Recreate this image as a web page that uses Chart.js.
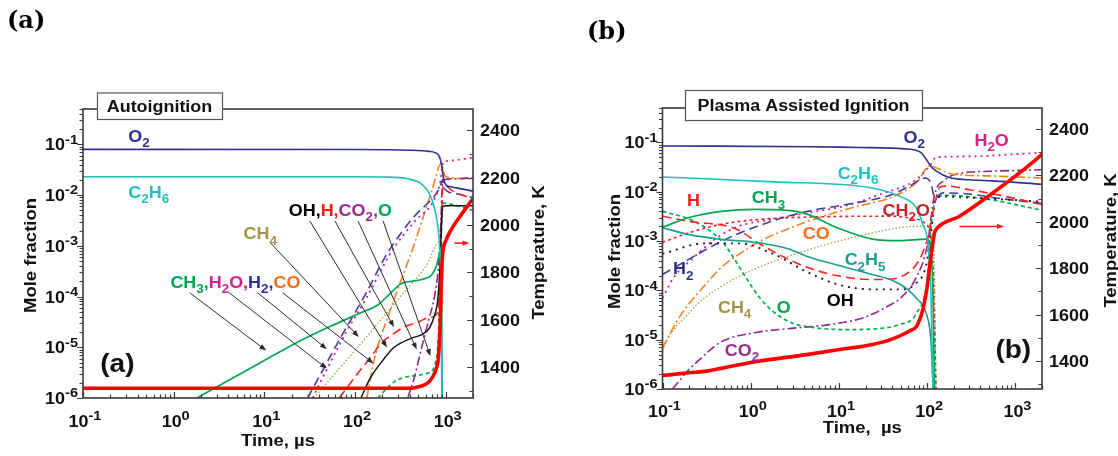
<!DOCTYPE html>
<html>
<head>
<meta charset="utf-8">
<title>Ethane–air ignition: autoignition vs plasma assisted ignition</title>
<script src="https://cdn.jsdelivr.net/npm/chart.js@4.4.1/dist/chart.umd.min.js"></script>
<style>
  html, body { margin: 0; padding: 0; background: #fff; }
  #page { position: relative; width: 1118px; height: 456px; overflow: hidden; background: #fff; }
  #page canvas { position: absolute; top: 0; }
  .panel-tag { position: absolute; font: bold 24px "DejaVu Serif", "Liberation Serif", serif; color: #000; line-height: 1; }
</style>
</head>
<body>
<div id="page">
  <canvas id="chartA" width="559" height="456" style="left:0"></canvas>
  <canvas id="chartB" width="559" height="456" style="left:559px"></canvas>
  <div class="panel-tag" style="left:7px;top:8px">(a)</div>
  <div class="panel-tag" style="left:587px;top:19px">(b)</div>
</div>
<script>
// ---------- axis ticks ----------
const timeTicks = [0.1, 1, 10, 100, 1000];
const timeTickLabels = ['10^{-1}', '10^{0}', '10^{1}', '10^{2}', '10^{3}'];
const fracTicks = [1e-6, 1e-5, 1e-4, 1e-3, 1e-2, 1e-1];
const fracTickLabels = ['10^{-6}', '10^{-5}', '10^{-4}', '10^{-3}', '10^{-2}', '10^{-1}'];
const tempTicks = [1400, 1600, 1800, 2000, 2200, 2400];
const tempTickLabels = ['1400', '1600', '1800', '2000', '2200', '2400'];

// ---------- (a) autoignition: [time µs, mole fraction] / [time µs, K] ----------
const aT = [[0.1,1311],[420,1311],[500,1317],[583,1325],[660,1340],[721,1360],[780,1390],[830,1440],[865,1560],[890,1720],[910,1830],[930,1885],[1014,1938],[1151,1981],[1486,2044],[2000,2112]];
const aO2 = [[0.1,0.08],[100,0.0795],[400,0.077],[650,0.073],[760,0.069],[850,0.058],[900,0.04],[950,0.021],[1000,0.016],[1100,0.0148],[1500,0.0133],[2000,0.012]];
const aC2H6 = [[0.1,0.0231],[100,0.0231],[210,0.0228],[380,0.021],[540,0.0165],[700,0.0085],[800,0.0032],[860,9e-4],[890,1.5e-4],[905,1e-5],[912,1e-6]];
const aCH3 = [[1.8,1e-6],[10,5.5e-6],[25,1.35e-5],[59,2.8e-5],[116,4.8e-5],[178,6.8e-5],[250,1.2e-4],[322,1.8e-4],[420,2.0e-4],[560,2.2e-4],[690,2.6e-4],[790,4e-4],[850,7e-4],[880,9e-4],[898,1e-4],[906,1e-6]];
const aH2O = [[34,1e-6],[50,4e-6],[80,2e-5],[132,9e-5],[250,7.5e-4],[450,3e-3],[750,8.3e-3],[880,0.02],[935,0.045],[1000,0.047],[1500,0.051],[2000,0.055]];
const aH2 = [[30,1e-6],[70,1.6e-5],[130,1.1e-4],[220,6.5e-4],[300,1.5e-3],[450,3.8e-3],[636,7e-3],[750,9.5e-3],[870,0.015],[925,0.02],[960,0.014],[1200,0.011],[2000,0.009]];
const aCO = [[135,1e-6],[163,5.7e-6],[250,6e-5],[452,1.1e-3],[700,0.012],[895,0.042],[950,0.028],[1000,0.023],[2000,0.021]];
const aCH4 = [[35,1e-6],[100,8.7e-6],[300,9e-5],[600,3.9e-4],[880,1.25e-3],[905,1e-4],[915,1e-6]];
const aOH = [[116,1e-6],[150,2.6e-6],[210,6e-6],[270,1e-5],[415,1.5e-5],[550,1.8e-5],[660,2.4e-5],[760,4.5e-5],[820,9e-5],[865,4e-4],[900,3e-3],[925,6e-3],[1000,6.2e-3],[2000,6.2e-3]];
const aH = [[67,1e-6],[100,2.6e-6],[150,6.5e-6],[194,1.2e-5],[272,1.9e-5],[360,2.6e-5],[492,3.1e-5],[636,3.8e-5],[820,5e-5],[870,3e-4],[905,5e-3],[940,0.016],[1200,0.012],[2000,0.0085]];
const aCO2 = [[382,1e-6],[450,2.5e-6],[536,9e-6],[650,3.5e-5],[752,1.0e-4],[832,4e-4],[885,3e-3],[915,0.015],[960,0.02],[1200,0.021],[2000,0.022]];
const aO = [[178,1e-6],[272,2.1e-6],[415,2.7e-6],[636,3.1e-6],[785,5.7e-6],[832,1.9e-5],[863,1.9e-4],[895,2e-3],[940,7e-3],[1200,6.5e-3],[2000,5e-3]];

// ---------- (b) plasma assisted ignition ----------
const bT = [[0.1,1338],[0.2,1350],[0.32,1357],[0.49,1371],[1.17,1398],[4.27,1428],[10.2,1450],[24,1472],[40,1495],[63,1530],[76,1551],[89,1620],[100,1720],[106,1800],[115,1900],[121,1952],[131,1974],[232,2024],[552,2124],[1240,2225],[2000,2290]];
const bO2 = [[0.1,0.085],[5,0.082],[17,0.079],[63,0.073],[85,0.062],[97,0.046],[110,0.033],[126,0.0265],[178,0.0194],[300,0.0175],[552,0.0166],[2000,0.0142]];
const bC2H6 = [[0.1,0.02],[1.8,0.0159],[22,0.0122],[53,0.0076],[75,0.0048],[89,0.0022],[102,8.6e-4],[110,1e-4],[116,1e-6]];
const bCH3 = [[0.1,1.9e-3],[0.2,3e-3],[0.47,4e-3],[1.1,4.4e-3],[2.6,4.2e-3],[4.2,3.6e-3],[10,1.8e-3],[24,1.1e-3],[50,1.02e-3],[97,1.1e-3],[108,8e-4],[116,1e-4],[121,1e-6]];
const bC2H5 = [[0.1,1.87e-3],[0.2,1.35e-3],[0.47,1.08e-3],[1.1,9.5e-4],[2.65,7e-4],[4.2,5e-4],[10,3.2e-4],[24,2.1e-4],[40,1.6e-4],[60,1.05e-4],[75,7e-5],[97,3.5e-5],[110,1e-5],[117,1e-6]];
const bH = [[0.1,3.2e-3],[0.2,2.5e-3],[0.66,1.8e-3],[1.3,8.5e-4],[2.65,4.3e-4],[4.2,3e-4],[10,1.95e-4],[24,1.66e-4],[40,1.7e-4],[63,2.4e-4],[82,4.3e-4],[102,1.2e-3],[120,5e-3],[140,0.0125],[170,0.013],[300,0.011],[600,8.8e-3],[2000,5.5e-3]];
const bCH2O = [[0.1,9.4e-4],[0.2,1.48e-3],[0.47,2.2e-3],[1.1,2.7e-3],[4.1,3.05e-3],[37,3.2e-3],[75,2.8e-3],[97,2.2e-3],[115,5e-4],[126,1e-6]];
const bOH = [[0.1,5.5e-4],[0.3,9e-4],[0.75,9e-4],[1.8,5.5e-4],[4.5,2.3e-4],[10,1.3e-4],[24,1.05e-4],[50,1.05e-4],[75,1.4e-4],[97,3.2e-4],[110,1.5e-3],[125,7e-3],[150,8e-3],[300,7.6e-3],[1000,6.8e-3],[2000,6.3e-3]];
const bH2 = [[0.1,2.1e-4],[0.2,4.3e-4],[0.47,1e-3],[1.1,1.9e-3],[2.65,3.2e-3],[5,4.2e-3],[10,5.2e-3],[24,6.9e-3],[40,8.8e-3],[63,0.013],[95,0.019],[110,0.015],[122,7.5e-3],[150,9.5e-3],[300,9e-3],[600,7.5e-3],[2000,5.8e-3]];
const bH2O = [[0.1,7e-5],[0.136,1.9e-4],[0.216,4.3e-4],[0.38,1.05e-3],[0.73,2e-3],[1.84,2.8e-3],[4.7,3.8e-3],[11.8,5.2e-3],[30,9e-3],[76,0.018],[110,0.036],[125,0.05],[300,0.052],[1000,0.058],[2000,0.062]];
const bCO = [[0.1,6.8e-6],[0.158,3e-5],[0.316,1.4e-4],[0.49,3.2e-4],[0.75,5.5e-4],[1.15,9e-4],[2.7,1.8e-3],[10,4e-3],[24,6e-3],[34,7e-3],[76,0.0155],[108,0.034],[130,0.03],[190,0.023],[500,0.021],[2000,0.019]];
const bCH4 = [[0.1,6e-6],[0.113,1e-5],[0.2,3.5e-5],[0.286,6.6e-5],[0.73,1.9e-4],[1.84,3.9e-4],[4.7,6.8e-4],[11.8,1.08e-3],[30,1.6e-3],[76,2e-3],[105,2e-3],[118,1e-3],[126,1e-6]];
const bO = [[0.1,4e-3],[0.2,2.8e-3],[0.29,2e-3],[0.47,1e-3],[0.6,5.5e-4],[0.87,1.9e-4],[1.27,7e-5],[1.84,3.6e-5],[2.9,2.2e-5],[4.7,1.8e-5],[12,1.6e-5],[30,1.7e-5],[47,2e-5],[76,3.5e-5],[100,1.7e-4],[110,1.7e-3],[125,7e-3],[160,8.5e-3],[500,7e-3],[1000,5.5e-3],[2000,4.2e-3]];
const bCO2 = [[0.13,1e-6],[0.2,2.5e-6],[0.24,3.4e-6],[0.46,9e-6],[1.15,1.4e-5],[2.9,1.7e-5],[7.4,2e-5],[19,2.8e-5],[37.5,5e-5],[50,7e-5],[76,1.9e-4],[100,8e-4],[120,8e-3],[160,0.0175],[250,0.024],[500,0.026],[2000,0.028]];

// ---------- line styles ----------
const STYLE = {
  T:    { color: '#FF0000', width: 3.6, dash: [] },
  O2:   { color: '#2E3192', width: 1.6, dash: [] },
  C2H6: { color: '#1FBFC2', width: 1.6, dash: [] },
  CH3:  { color: '#00A651', width: 1.7, dash: [] },
  C2H5: { color: '#14A08F', width: 1.6, dash: [] },
  H:    { color: '#FF2222', width: 1.6, dash: [9, 5] },
  CH2O: { color: '#D62A2A', width: 1.6, dash: [3, 3] },
  H2O:  { color: '#DD1C8E', width: 1.8, dash: [2, 4] },
  H2:   { color: '#3B3FA3', width: 1.6, dash: [9, 5] },
  CO:   { color: '#F7801E', width: 1.6, dash: [9, 3, 2, 3] },
  CO2:  { color: '#93278F', width: 1.6, dash: [9, 3, 2, 3] },
  CH4:  { color: '#A6983F', width: 1.3, dash: [1.5, 2] },
  O:    { color: '#00B050', width: 1.7, dash: [4, 3] },
  OH:   { color: '#111111', width: 1.5, dash: [] },
  OHd:  { color: '#222222', width: 1.9, dash: [2, 5] }
};
const LC = {
  O2: '#2E3192', C2H6: '#1FBFC2', CH4: '#A39446', CH3: '#00A651', H2O: '#D4208B',
  H2: '#2E3192', CO: '#F26F21', OH: '#000000', H: '#FF1A1A', CO2: '#9B2A8F',
  O: '#00A651', CH2O: '#C0282D', C2H5: '#16A190'
};

const seriesA = [
  { data: aT, style: 'T', axis: 'yT' },
  { data: aO2, style: 'O2' }, { data: aC2H6, style: 'C2H6' }, { data: aCH3, style: 'CH3' },
  { data: aOH, style: 'OH' }, { data: aH, style: 'H' }, { data: aCO2, style: 'CO2' },
  { data: aO, style: 'O' }, { data: aH2O, style: 'H2O' }, { data: aH2, style: 'H2' },
  { data: aCO, style: 'CO' }, { data: aCH4, style: 'CH4' }
];
const seriesB = [
  { data: bT, style: 'T', axis: 'yT' },
  { data: bO2, style: 'O2' }, { data: bC2H6, style: 'C2H6' }, { data: bCH3, style: 'CH3' },
  { data: bC2H5, style: 'C2H5' }, { data: bH, style: 'H' }, { data: bCH2O, style: 'CH2O' },
  { data: bOH, style: 'OHd' }, { data: bH2, style: 'H2' }, { data: bH2O, style: 'H2O' },
  { data: bCO, style: 'CO' }, { data: bCH4, style: 'CH4' }, { data: bO, style: 'O' },
  { data: bCO2, style: 'CO2' }
];

// species names placed in the plot, anchored at [time, mole fraction] (left edge, baseline)
const labelsA = [
  { at: [0.316, 0.111], parts: [['O_2', LC.O2]] },
  { at: [0.316, 8.8e-3], parts: [['C_2H_6', LC.C2H6]] },
  { at: [5.9, 1.34e-3], parts: [['CH_4', LC.CH4]] },
  { at: [18.6, 3.9e-3], parts: [['OH,', LC.OH], ['H,', LC.H], ['CO_2,', LC.CO2], ['O', LC.O]] },
  { at: [0.92, 1.51e-4], parts: [['CH_3,', LC.CH3], ['H_2O,', LC.H2O], ['H_2,', LC.H2], ['CO', LC.CO]] },
  { at: [0.155, 3.3e-6], parts: [['(a)', '#111']], size: 25 }
];
const labelsB = [
  { at: [54, 0.0968], parts: [['O_2', LC.O2]] },
  { at: [343, 0.086], parts: [['H_2O', LC.H2O]] },
  { at: [9.66, 0.0179], parts: [['C_2H_6', LC.C2H6]] },
  { at: [0.189, 5.2e-3], parts: [['H', LC.H]] },
  { at: [1.03, 5.8e-3], parts: [['CH_3', LC.CH3]] },
  { at: [31.2, 3.3e-3], parts: [['CH_2O', LC.CH2O]] },
  { at: [3.88, 1.08e-3], parts: [['CO', LC.CO]] },
  { at: [11.6, 3.2e-4], parts: [['C_2H_5', LC.C2H5]] },
  { at: [0.1315, 2.1e-4], parts: [['H_2', LC.H2]] },
  { at: [0.425, 3.56e-5], parts: [['CH_4', LC.CH4]] },
  { at: [1.97, 3.56e-5], parts: [['O', LC.O]] },
  { at: [7.26, 4.8e-5], parts: [['OH', LC.OH]] },
  { at: [0.509, 4.75e-6], parts: [['CO_2', LC.CO2]] },
  { at: [593, 4.3e-6], parts: [['(b)', '#111']], size: 25 }
];

// leader arrows from the grouped names to their curves (a)
const leadersA = [
  { from: [1.50, 1.19e-4], to: [10.5, 8.6e-6] },
  { from: [4.09, 1.19e-4], to: [48.9, 3.8e-6] },
  { from: [8.43, 1.19e-4], to: [48.9, 9.2e-6] },
  { from: [15.9, 1.19e-4], to: [160, 4.8e-6] },
  { from: [11.6, 1.16e-3], to: [110, 1.6e-5] },
  { from: [31.7, 3.1e-3], to: [225, 9.9e-6] },
  { from: [60, 3.1e-3], to: [269, 2.5e-5] },
  { from: [108, 3.1e-3], to: [479, 9e-6] },
  { from: [204, 3.1e-3], to: [679, 6.7e-6] }
];
// red arrows pointing to the temperature axis, [time, K]
const tempArrowA = { from: [1250, 1924], to: [1830, 1924] };
const tempArrowB = { from: [232, 1980], to: [741, 1980] };

// ---------- text helpers ----------
const SX = 1.12;
const FAMILY = '"Liberation Sans", Arial, Helvetica, sans-serif';
const font = (sz) => 'bold ' + sz + 'px ' + FAMILY;

function runs(str, color) {
  const out = []; let buf = '', i = 0;
  const flush = () => { if (buf) { out.push({ t: buf, c: color, s: 'n' }); buf = ''; } };
  while (i < str.length) {
    const ch = str[i];
    if (ch === '_' || ch === '^') {
      flush();
      let txt;
      if (str[i + 1] === '{') { const j = str.indexOf('}', i + 2); txt = str.slice(i + 2, j); i = j + 1; }
      else { txt = str[i + 1]; i += 2; }
      out.push({ t: txt, c: color, s: ch === '_' ? 'sub' : 'sup' });
    } else { buf += ch; i++; }
  }
  flush();
  return out;
}
function partsToRuns(parts) { return parts.flatMap(([s, c]) => runs(s, c)); }

function drawRich(ctx, rr, x, y, align, size) {
  size = size || 16;
  let w = 0;
  const items = rr.map(r => {
    const sz = r.s === 'n' ? size : Math.round(size * (r.s === 'sup' ? 0.8 : 0.75));
    ctx.font = font(sz);
    const iw = ctx.measureText(r.t).width * SX;
    const it = Object.assign({}, r, { sz, x: w }); w += iw; return it;
  });
  const x0 = align === 'center' ? x - w / 2 : align === 'right' ? x - w : x;
  ctx.save();
  ctx.textBaseline = 'alphabetic'; ctx.textAlign = 'left';
  for (const it of items) {
    ctx.font = font(it.sz);
    ctx.fillStyle = it.c || '#111';
    const dy = it.s === 'sub' ? size * 0.32 : it.s === 'sup' ? -size * 0.42 : 0;
    ctx.save(); ctx.translate(x0 + it.x, y + dy); ctx.scale(SX, 1); ctx.fillText(it.t, 0, 0); ctx.restore();
  }
  ctx.restore();
  return w;
}
function drawVertical(ctx, text, cx, cy) {
  ctx.save(); ctx.translate(cx, cy); ctx.rotate(-Math.PI / 2);
  drawRich(ctx, runs(text, '#111'), 0, 6, 'center', 16.5);
  ctx.restore();
}
function arrow(ctx, x1, y1, x2, y2, color, lw, head) {
  const ang = Math.atan2(y2 - y1, x2 - x1);
  ctx.save(); ctx.strokeStyle = color; ctx.fillStyle = color; ctx.lineWidth = lw;
  ctx.beginPath(); ctx.moveTo(x1, y1);
  ctx.lineTo(x2 - Math.cos(ang) * head * 0.8, y2 - Math.sin(ang) * head * 0.8); ctx.stroke();
  ctx.beginPath(); ctx.moveTo(x2, y2);
  ctx.lineTo(x2 - head * Math.cos(ang) + head * 0.38 * Math.sin(ang), y2 - head * Math.sin(ang) - head * 0.38 * Math.cos(ang));
  ctx.lineTo(x2 - head * Math.cos(ang) - head * 0.38 * Math.sin(ang), y2 - head * Math.sin(ang) + head * 0.38 * Math.cos(ang));
  ctx.closePath(); ctx.fill(); ctx.restore();
}
function logTicks(min, max) {
  const out = [];
  for (let d = Math.floor(Math.log10(min)); d <= Math.ceil(Math.log10(max)); d++) {
    for (let k = 1; k <= 9; k++) {
      const v = k * Math.pow(10, d);
      if (v >= min * 0.999 && v <= max * 1.001) out.push([v, k === 1]);
    }
  }
  return out;
}

// frame, ticks, tick labels, titles and annotations
function decor(P) {
  return {
    id: 'decor',
    afterDraw(chart) {
      const ctx = chart.ctx, a = chart.chartArea;
      const sx = chart.scales.x, sy = chart.scales.y, sT = chart.scales.yT;
      ctx.save();
      ctx.strokeStyle = '#3a3a3a'; ctx.lineWidth = 1.2;
      ctx.beginPath();
      logTicks(sx.min, sx.max).forEach(([v, major]) => {
        const px = Math.round(sx.getPixelForValue(v)) + 0.5;
        ctx.moveTo(px, a.bottom); ctx.lineTo(px, a.bottom - (major ? 6 : 3.5));
      });
      logTicks(sy.min, sy.max).forEach(([v, major]) => {
        const py = Math.round(sy.getPixelForValue(v)) + 0.5;
        ctx.moveTo(a.left, py); ctx.lineTo(a.left - (major ? 6 : 3.5), py);
      });
      for (let v = Math.ceil(sT.min / 100) * 100; v <= sT.max; v += 100) {
        const py = Math.round(sT.getPixelForValue(v)) + 0.5;
        ctx.moveTo(a.right, py); ctx.lineTo(a.right - (v % 200 === 0 ? 6 : 3.5), py);
      }
      ctx.stroke();
      ctx.lineWidth = 1.6;
      ctx.strokeRect(a.left, a.top, a.right - a.left, a.bottom - a.top);

      // tick labels
      timeTicks.forEach((v, i) => drawRich(ctx, runs(timeTickLabels[i], '#111'), sx.getPixelForValue(v) + 2, a.bottom + P.xLabelDy, 'center', 16));
      fracTicks.forEach((v, i) => drawRich(ctx, runs(fracTickLabels[i], '#111'), a.left - 5, sy.getPixelForValue(v) + 6, 'right', 16));
      tempTicks.forEach((v, i) => drawRich(ctx, runs(tempTickLabels[i], '#111'), a.right + 7, sT.getPixelForValue(v) + 6, 'left', 16));

      // axis titles
      drawRich(ctx, runs(P.xTitle, '#111'), (a.left + a.right) / 2 + P.xTitleDx, a.bottom + P.xTitleDy, 'center', 16.5);
      drawVertical(ctx, 'Mole fraction', a.left + P.yTitleDx, (a.top + a.bottom) / 2 + P.yTitleDy);
      drawVertical(ctx, 'Temperature, K', a.right + P.tTitleDx, (a.top + a.bottom) / 2 + P.tTitleDy);

      // leader arrows and species names
      ctx.save();
      ctx.beginPath(); ctx.rect(a.left, a.top, a.right - a.left, a.bottom - a.top); ctx.clip();
      (P.leaders || []).forEach(L => arrow(ctx,
        sx.getPixelForValue(L.from[0]), sy.getPixelForValue(L.from[1]),
        sx.getPixelForValue(L.to[0]), sy.getPixelForValue(L.to[1]), '#2b2b2b', 1, 7));
      const TA = P.tempArrow;
      arrow(ctx, sx.getPixelForValue(TA.from[0]), sT.getPixelForValue(TA.from[1]),
        sx.getPixelForValue(TA.to[0]), sT.getPixelForValue(TA.to[1]), '#FF1A1A', 1.6, 7);
      ctx.restore();
      P.labels.forEach(L => drawRich(ctx, partsToRuns(L.parts),
        sx.getPixelForValue(L.at[0]), sy.getPixelForValue(L.at[1]), 'left', L.size || 16));

      // title box on the upper frame
      const b = P.box;
      const bx = a.left + b.dx, by = a.top + b.dy;
      ctx.fillStyle = '#fff'; ctx.fillRect(bx, by, b.w, b.h);
      ctx.strokeStyle = '#555'; ctx.lineWidth = 1.2; ctx.strokeRect(bx + 0.5, by + 0.5, b.w, b.h);
      drawRich(ctx, runs(P.title, '#111'), bx + b.w / 2, by + b.h / 2 + 6, 'center', 16);
      ctx.restore();
    }
  };
}

function buildDatasets(series) {
  return series.map(s => {
    const st = STYLE[s.style];
    return {
      data: s.data.map(([x, y]) => ({ x, y })),
      borderColor: st.color, borderWidth: st.width, borderDash: st.dash,
      borderCapStyle: 'butt', borderJoinStyle: 'round',
      yAxisID: s.axis || 'y', pointRadius: 0, fill: false,
      cubicInterpolationMode: 'monotone'
    };
  });
}

function makeChart(id, series, P) {
  return new Chart(document.getElementById(id), {
    type: 'line',
    data: { datasets: buildDatasets(series) },
    options: {
      responsive: false, animation: false, maintainAspectRatio: false,
      layout: { padding: P.pad },
      plugins: { legend: { display: false }, tooltip: { enabled: false } },
      scales: {
        x: { type: 'logarithmic', min: 0.1, max: 2000, display: false },
        y: { type: 'logarithmic', min: 1e-6, max: 0.5, display: false },
        yT: { type: 'linear', position: 'right', min: P.tmin, max: P.tmax, display: false }
      }
    },
    plugins: [decor(P)]
  });
}

makeChart('chartA', seriesA, {
  pad: { left: 83, right: 86, top: 109, bottom: 58 },
  tmin: 1270, tmax: 2490,
  title: 'Autoignition', box: { dx: 14, dy: -16.5, w: 125, h: 26.5 },
  xTitle: 'Time, µs', xTitleDx: 0, xTitleDy: 48, xLabelDy: 29,
  yTitleDx: -53, yTitleDy: 2, tTitleDx: 65, tTitleDy: -1,
  labels: labelsA, leaders: leadersA, tempArrow: tempArrowA
});
makeChart('chartB', seriesB, {
  pad: { left: 103.5, right: 76, top: 108, bottom: 67 },
  tmin: 1280, tmax: 2490,
  title: 'Plasma Assisted Ignition', box: { dx: 22.5, dy: -18, w: 237, h: 30 },
  xTitle: 'Time,  µs', xTitleDx: 10, xTitleDy: 44, xLabelDy: 28,
  yTitleDx: -48.5, yTitleDy: 3, tTitleDx: 68, tTitleDy: -8,
  labels: labelsB, leaders: [], tempArrow: tempArrowB
});
</script>
</body>
</html>
